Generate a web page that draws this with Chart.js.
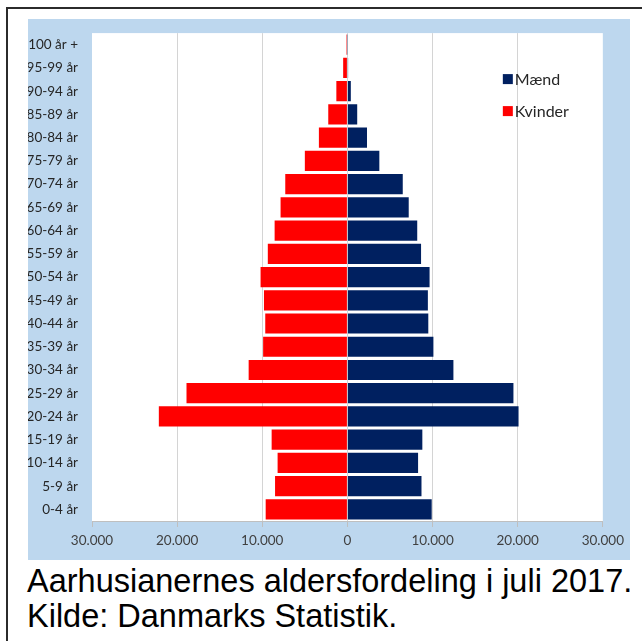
<!DOCTYPE html>
<html lang="da">
<head>
<meta charset="utf-8">
<title>Aarhusianernes aldersfordeling i juli 2017</title>
<script src="https://cdn.jsdelivr.net/npm/chart.js@4"></script>
<style>
  html, body { margin: 0; padding: 0; background: #ffffff; }
  body { width: 642px; height: 641px; position: relative; overflow: hidden; }
  #frame {
    position: absolute; left: 6px; top: 7px; width: 640px; height: 640px;
    border-top: 2px solid #2b2b2b; border-left: 2px solid #2b2b2b;
  }
  #panel {
    position: absolute; left: 28px; top: 19px; width: 602px; height: 541px;
    background: #bdd7ee;
  }
  #chartBox {
    position: absolute; left: 28px; top: 11px; width: 602px; height: 549px;
  }
  .caption {
    position: absolute; left: 27px; margin: 0;
    font-family: "Liberation Sans", Arial, sans-serif; font-size: 32.5px;
    line-height: 35px; color: #000000; white-space: nowrap;
  }
</style>
</head>
<body>
<div id="frame"></div>
<div id="panel"></div>
<div id="chartBox"><canvas id="pyramid"></canvas></div>
<p class="caption" style="top:564px">Aarhusianernes aldersfordeling i juli 2017.</p>
<p class="caption" style="top:599px">Kilde: Danmarks Statistik.</p>
<script>
// Aldersgrupper, yngste først (vises nedefra og op)
const ageGroups = ['0-4 år', '5-9 år', '10-14 år', '15-19 år', '20-24 år', '25-29 år',
  '30-34 år', '35-39 år', '40-44 år', '45-49 år', '50-54 år', '55-59 år', '60-64 år',
  '65-69 år', '70-74 år', '75-79 år', '80-84 år', '85-89 år', '90-94 år', '95-99 år', '100 år +'];

// Antal personer pr. aldersgruppe
const maend = [9900, 8700, 8300, 8800, 20100, 19500, 12450, 10100, 9500, 9450, 9650,
  8650, 8200, 7200, 6500, 3750, 2300, 1150, 400, 80, 30];
const kvinder = [9600, 8500, 8200, 8900, 22150, 18900, 11600, 9900, 9650, 9800, 10200,
  9350, 8550, 7850, 7300, 5000, 3350, 2250, 1300, 500, 110];

// Akseinddeling
const xTickLabels = ['30.000', '20.000', '10.000', '0', '10.000', '20.000', '30.000'];
const seriesNames = ['Mænd', 'Kvinder'];

const NAVY = '#002060';
const RED = '#ff0000';
const AXIS_FONT = '"Lato", "Open Sans", sans-serif';

// Hvid baggrund bag selve plotområdet
const plotBackground = {
  id: 'plotBackground',
  beforeDraw(chart) {
    const { ctx, chartArea: a } = chart;
    ctx.save();
    ctx.fillStyle = '#ffffff';
    ctx.fillRect(a.left, a.top, a.right - a.left, a.bottom - a.top);
    ctx.restore();
  }
};

// Forklaring placeret inde i plotområdet øverst til højre
const innerLegend = {
  id: 'innerLegend',
  afterDraw(chart) {
    const { ctx, chartArea: a } = chart;
    ctx.save();
    ctx.font = '16px ' + AXIS_FONT;
    ctx.textBaseline = 'middle';
    ctx.textAlign = 'left';
    chart.data.datasets.forEach((ds, i) => {
      const x = a.right - 100;
      const y = a.top + 41 + i * 32;
      ctx.fillStyle = ds.backgroundColor;
      ctx.fillRect(x, y, 10, 10);
      ctx.fillStyle = '#262626';
      ctx.fillText(ds.label, x + 12, y + 5.5);
    });
    ctx.restore();
  }
};

new Chart(document.getElementById('pyramid'), {
  type: 'bar',
  data: {
    labels: ageGroups,
    datasets: [
      {
        label: seriesNames[0],
        data: maend,
        backgroundColor: NAVY,
        barPercentage: 0.87,
        categoryPercentage: 1.0
      },
      {
        label: seriesNames[1],
        data: kvinder.map(v => -v),
        backgroundColor: RED,
        barPercentage: 0.87,
        categoryPercentage: 1.0
      }
    ]
  },
  options: {
    indexAxis: 'y',
    responsive: true,
    maintainAspectRatio: false,
    animation: false,
    layout: { padding: { top: 0, right: 27, left: 0, bottom: 0 } },
    plugins: {
      legend: { display: false },
      tooltip: {
        callbacks: {
          label: (c) => c.dataset.label + ': ' + Math.abs(c.raw).toLocaleString('da-DK')
        }
      }
    },
    scales: {
      x: {
        stacked: true,
        min: -30000,
        max: 30000,
        afterFit(scale) { scale.height = 39; },
        ticks: {
          stepSize: 10000,
          padding: 6,
          color: '#404040',
          font: { family: AXIS_FONT, size: 13.5 },
          callback: (value, index) => xTickLabels[index]
        },
        grid: {
          color: (c) => (c.index === 0 || c.index === xTickLabels.length - 1) ? 'rgba(0,0,0,0)' : '#d4d4d4',
          tickColor: '#bfbfbf',
          tickLength: 6,
          drawTicks: true
        },
        border: { display: true, color: '#bfbfbf', width: 1 }
      },
      y: {
        stacked: true,
        reverse: true,
        afterFit(scale) { scale.width = 64; },
        ticks: {
          padding: 14,
          color: '#262626',
          font: { family: AXIS_FONT, size: 13.5 }
        },
        grid: { display: false, drawTicks: false },
        border: { display: false }
      }
    }
  },
  plugins: [plotBackground, innerLegend]
});
</script>
</body>
</html>
